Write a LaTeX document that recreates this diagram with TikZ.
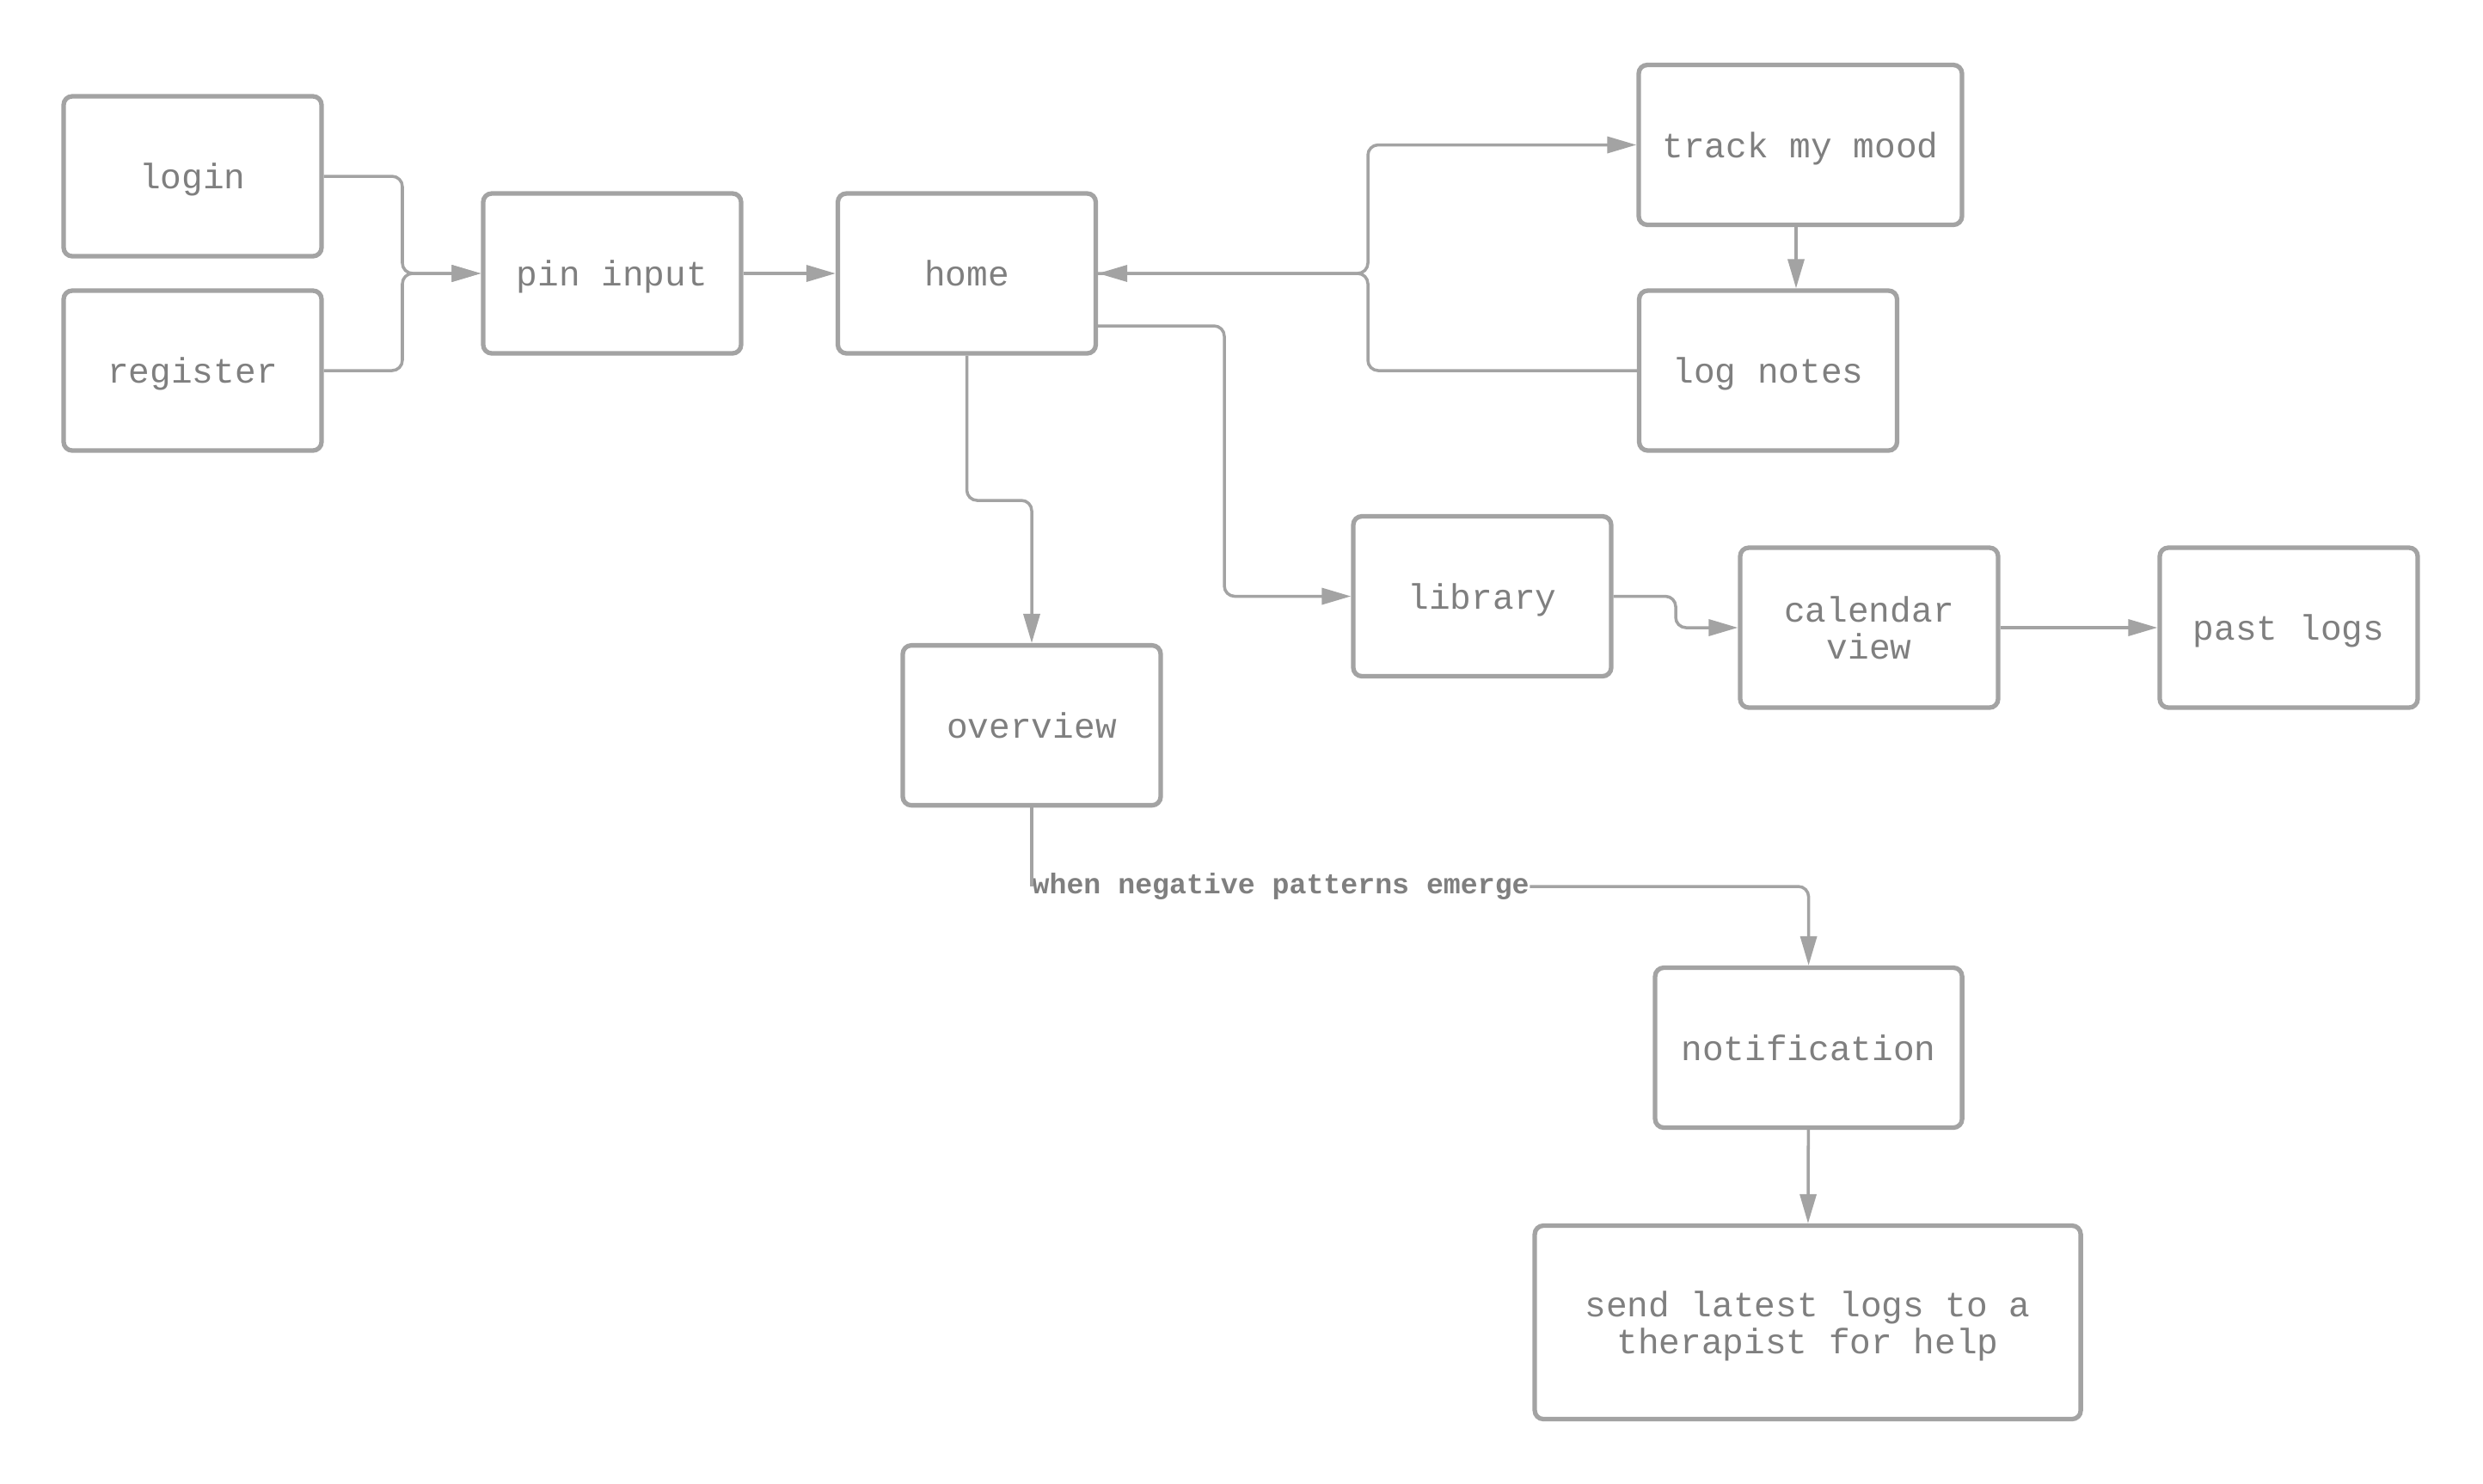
\documentclass[tikz,border=0pt]{standalone}
\usepackage{fontspec}
\setmonofont{Liberation Mono}
\usepackage{xcolor}
\usepackage{tikz}
\usetikzlibrary{positioning,arrows.meta,calc}
\definecolor{boxgray}{HTML}{A3A3A3}
\definecolor{txtgray}{HTML}{7F7F7F}

\begin{document}
\begin{tikzpicture}[>={Triangle[length=3.4mm,width=1.9mm]}]
  \tikzset{
    screen/.style={rectangle,draw=boxgray,line width=1.5pt,fill=white,rounded corners=1mm,
                   minimum width=3cm,minimum height=1.86cm,align=center,text=txtgray,text depth=0pt,
                   font=\ttfamily\fontsize{11.7}{12.2}\selectfont},
    link/.style={draw=boxgray,line width=1pt,rounded corners=1.2mm},
    arr/.style={link,->},
    cond/.style={inner sep=0pt,fill=white,text=txtgray,font=\ttfamily\bfseries\fontsize{9.45}{10}\selectfont}}
  \useasboundingbox (0,0) rectangle (28.88,-17.25);
  % screens
  \node[screen] (login) at (2.24,-2.05){login};
  \node[screen] (register) at (2.24,-4.31){register};
  \node[screen] (pin) at (7.12,-3.18){pin input};
  \node[screen] (home) at (11.245,-3.18){home};
  \node[screen,minimum width=3.76cm] (track) at (20.94,-1.685){track my mood};
  \node[screen] (notes) at (20.565,-4.31){log notes};
  \node[screen] (library) at (17.24,-6.935){library};
  \node[screen] (calendar) at (21.74,-7.30){calendar\\view};
  \node[screen] (past) at (26.62,-7.30){past logs};
  \node[screen] (overview) at (12.00,-8.436){overview};
  \node[screen,minimum width=3.57cm] (notif) at (21.036,-12.185){notification};
  \node[screen,minimum width=6.35cm,minimum height=2.25cm] (send) at (21.026,-15.38)
    {send latest logs to a\\therapist for help};
  % login flow
  \draw[arr] (login.east) -- (4.68,-2.05) |- (pin.west);
  \draw[arr] (register.east) -- (4.68,-4.31) |- (pin.west);
  \draw[arr] (pin) -- (home);
  % mood tracking
  \draw[arr] (home.east) -- (15.91,-3.18) |- (track.west);
  \draw[arr] (notes.west) -- (15.91,-4.31) |- (home.east);
  \draw[arr] ([xshift=-0.5mm]track.south) -- ([xshift=-0.5mm]track.south |- notes.north);
  % library
  \draw[arr] ($(home.east)+(0,-0.61)$) -| (14.24,-6.935) -- (library.west);
  \draw[arr] (library.east) -- (19.49,-6.935) |- (calendar.west);
  \draw[arr] (calendar) -- (past);
  % overview and help
  \draw[arr] (home.south) -- (11.245,-5.82) -| (overview.north);
  \node[cond,anchor=west] (trigger) at (12.00,-10.31){when negative patterns emerge};
  \draw[link] (overview.south) -- (trigger.west);
  \draw[arr] (trigger.east) -| (notif.north);
  \draw[arr] (notif) -- (send);
\end{tikzpicture}
\end{document}
